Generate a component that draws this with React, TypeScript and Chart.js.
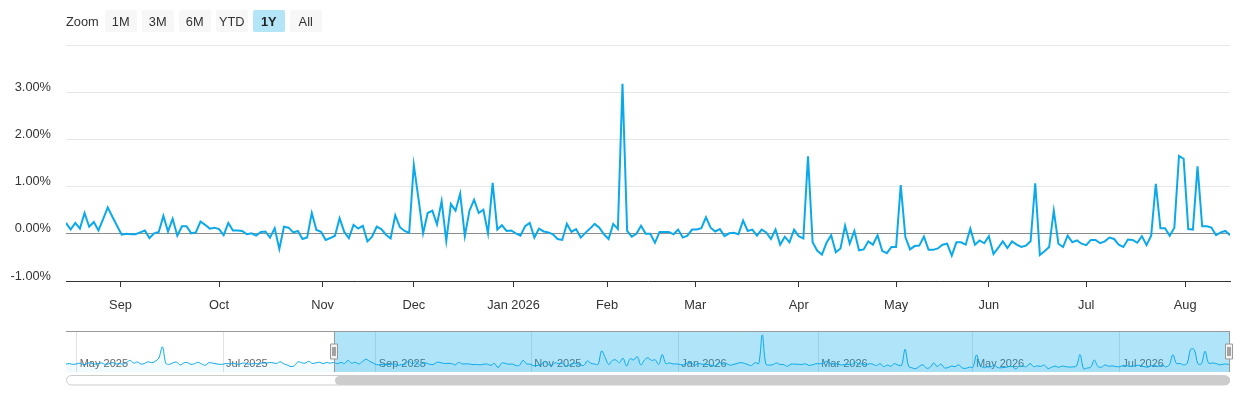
import React, { useEffect, useRef } from 'react';
import { Chart, registerables } from 'chart.js';

Chart.register(...registerables);

const FONT = '"Liberation Sans", Arial, Helvetica, sans-serif';
const LINE_COLOR = '#0ca9ea';

// Trading calendar (weekdays minus market holidays)
const firstDay = '2025-04-28';
const lastDay = '2026-08-14';
const rangeStart = '2025-08-14';
const holidays = [
  '2025-05-26', '2025-06-19', '2025-07-04', '2025-09-01', '2025-11-27', '2025-12-25',
  '2026-01-01', '2026-01-19', '2026-02-16', '2026-04-03', '2026-05-25', '2026-06-19', '2026-07-03',
];

// Daily change (%) — period before the selected range (seen only in the navigator)
const apr2025 = [0.05, 0.1, 0.02];
const may2025 = [0.08, 0.15, -0.02, 0.12, 0.2, 0.04, 0.1, 0.18, 0.01, 0.09, 0.22, 0.06, 0.12, 0.03, 0.25, 0.45, 0.15, 0.28, 0.05, 0.12, 0.3];
const jun2025 = [0.2, 0.35, 0.7, 1.9, 0.12, 0.02, 0.2, 0.25, -0.05, 0.18, 0.22, 0.01, 0.1, 0.24, 0.05, -0.08, 0.2, 0.16, 0.08, 0.02];
const jul2025 = [0.04, 0.12, 0.06, 0.15, 0.02, 0.1, 0.18, 0.05, 0.08, 0.14, 0.03, 0.2, 0.15, 0.22, 0.18, 0.12, 0.3, 0.08, -0.05, -0.22, -0.12, 0.3];
const aug2025early = [0.2, 0.15, 0.35, 0.12, 0.18, 0.25, 0.1, 0.22, 0.15];

// Daily change (%) — selected 1Y range
const aug2025 = [0.23, 0.09, 0.23, 0.11, 0.44, 0.15, 0.25, 0.07, 0.31, 0.56, 0.36, 0.17];
const sep2025 = [-0.02, 0.0, -0.01, -0.01, 0.03, 0.07, -0.09, 0.01, 0.04, 0.38, 0.05, 0.32, -0.04, 0.16, 0.16, 0.01, 0.03, 0.26, 0.19, 0.11, 0.13];
const oct2025 = [0.1, -0.03, 0.23, 0.07, 0.07, 0.06, -0.01, 0.01, -0.04, 0.04, 0.05, -0.08, 0.12, -0.32, 0.15, 0.13, 0.03, 0.06, -0.11, -0.08, 0.44, 0.08, 0.04];
const nov2025 = [-0.13, -0.09, -0.04, 0.33, 0.04, -0.09, 0.19, 0.11, 0.17, -0.16, -0.06, 0.15, 0.1, -0.02, -0.1, 0.39, 0.14, 0.06, 0.02];
const dec2025 = [1.46, 0.75, 0.01, 0.44, 0.49, 0.2, 0.69, -0.15, 0.63, 0.49, 0.85, -0.05, 0.49, 0.72, 0.44, 0.51, 0.01, 1.08, 0.09, 0.18, 0.06, 0.07];
const jan2026 = [0.01, -0.04, 0.16, 0.23, -0.08, 0.11, 0.05, 0.03, -0.01, -0.11, -0.13, 0.21, 0.04, 0.1, -0.08, 0.02, 0.11, 0.21, 0.13, -0.01];
const feb2026 = [-0.11, 0.21, 0.1, 3.18, 0.06, -0.06, 0.0, 0.17, 0.0, 0.0, -0.19, 0.04, 0.04, 0.04, -0.01, 0.09, -0.08, -0.04, 0.09];
const mar2026 = [0.09, 0.12, 0.35, 0.13, 0.05, 0.1, -0.05, 0.01, 0.02, -0.01, 0.28, 0.06, 0.09, -0.04, 0.09, 0.03, -0.11, 0.09, -0.23, -0.06, -0.18, 0.09];
const apr2026 = [-0.05, -0.1, 1.64, -0.18, -0.36, -0.44, -0.19, -0.03, -0.39, -0.31, 0.17, -0.21, 0.06, -0.35, -0.33, -0.16, -0.23, -0.03, -0.36, -0.41, -0.28];
const may2026 = [-0.28, 1.03, -0.07, -0.33, -0.26, -0.25, -0.06, -0.34, -0.34, -0.31, -0.23, -0.21, -0.46, -0.18, -0.18, -0.23, 0.11, -0.23, -0.14, -0.2];
const jun2026 = [-0.05, -0.43, -0.3, -0.16, -0.3, -0.16, -0.23, -0.28, -0.25, -0.16, 1.07, -0.45, -0.37, -0.28, 0.49, -0.21, -0.28, -0.04, -0.18, -0.14, -0.21];
const jul2026 = [-0.24, -0.13, -0.13, -0.2, -0.16, -0.08, -0.11, -0.23, -0.28, -0.12, -0.13, -0.19, -0.05, -0.24, -0.04, 1.06, 0.12, 0.12, -0.04, 0.13, 1.65, 1.59];
const aug2026 = [0.1, 0.09, 1.43, 0.16, 0.16, 0.13, -0.03, 0.03, 0.06, -0.03];

// Axis ticks
const yTicks = [-1, 0, 1, 2, 3, 4];
const mainTickDates = ['2025-09-01', '2025-10-01', '2025-11-01', '2025-12-01', '2026-01-01', '2026-02-01', '2026-03-01', '2026-04-01', '2026-05-01', '2026-06-01', '2026-07-01', '2026-08-01'];
const mainTickLabels = ['Sep', 'Oct', 'Nov', 'Dec', 'Jan 2026', 'Feb', 'Mar', 'Apr', 'May', 'Jun', 'Jul', 'Aug'];
const navTickDates = ['2025-05-01', '2025-07-01', '2025-09-01', '2025-11-01', '2026-01-01', '2026-03-01', '2026-05-01', '2026-07-01'];
const navTickLabels = ['May 2025', 'Jul 2025', 'Sep 2025', 'Nov 2025', 'Jan 2026', 'Mar 2026', 'May 2026', 'Jul 2026'];

const rangeButtons = ['1M', '3M', '6M', 'YTD', '1Y', 'All'];
const selectedRange = '1Y';

const allValues = [
  ...apr2025, ...may2025, ...jun2025, ...jul2025, ...aug2025early,
  ...aug2025, ...sep2025, ...oct2025, ...nov2025, ...dec2025, ...jan2026,
  ...feb2026, ...mar2026, ...apr2026, ...may2026, ...jun2026, ...jul2026, ...aug2026,
];

function tradingDays(): number[] {
  const hol = new Set(holidays);
  const out: number[] = [];
  const end = Date.parse(lastDay);
  for (let t = Date.parse(firstDay); t <= end; t += 86400000) {
    const d = new Date(t);
    const wd = d.getUTCDay();
    const iso = d.toISOString().slice(0, 10);
    if (wd === 0 || wd === 6 || hol.has(iso)) continue;
    out.push(t);
  }
  return out;
}

// Ordinal position of a timestamp (interpolated between trading days)
function ordinal(t: number, days: number[]): number {
  for (let i = 0; i < days.length; i++) {
    if (days[i] === t) return i;
    if (days[i] > t) {
      const a = days[i - 1];
      return i - 1 + (t - a) / (days[i] - a);
    }
  }
  return days.length - 1;
}

export default function App() {
  const mainRef = useRef<HTMLCanvasElement | null>(null);
  const navRef = useRef<HTMLCanvasElement | null>(null);

  useEffect(() => {
    const days = tradingDays();
    const n = Math.min(days.length, allValues.length);
    const startIdx = days.indexOf(Date.parse(rangeStart));
    const endIdx = n - 1;
    const allPoints = allValues.slice(0, n).map((v, i) => ({ x: i, y: v }));
    const mainPoints = allPoints.slice(startIdx);
    const mainTickPos = mainTickDates.map((d) => ordinal(Date.parse(d), days));
    const navTickPos = navTickDates.map((d) => ordinal(Date.parse(d), days));

    const mainChart = new Chart(mainRef.current as HTMLCanvasElement, {
      type: 'line',
      data: {
        datasets: [
          {
            data: mainPoints,
            borderColor: LINE_COLOR,
            borderWidth: 2,
            pointRadius: 0,
            tension: 0,
            fill: false,
          },
        ],
      },
      options: {
        animation: false,
        responsive: false,
        events: [],
        layout: { padding: { top: 45, right: 10, left: 0, bottom: 0 } },
        plugins: { legend: { display: false }, tooltip: { enabled: false } },
        scales: {
          x: {
            type: 'linear',
            min: startIdx,
            max: endIdx,
            afterBuildTicks: (s: any) => {
              s.ticks = mainTickPos.map((v) => ({ value: v }));
            },
            afterFit: (s: any) => {
              s.height = 39;
            },
            ticks: {
              autoSkip: false,
              maxRotation: 0,
              padding: 11,
              color: '#333333',
              font: { size: 12.8, family: FONT },
              callback: (_v: any, i: number) => mainTickLabels[i],
            },
            grid: { drawOnChartArea: false, drawTicks: true, tickLength: 6, color: '#333333', lineWidth: 1 },
            border: { display: true, color: '#333333', width: 1 },
          },
          y: {
            type: 'linear',
            min: -1,
            max: 4,
            afterBuildTicks: (s: any) => {
              s.ticks = yTicks.map((v) => ({ value: v }));
            },
            afterFit: (s: any) => {
              s.width = 66;
            },
            ticks: {
              padding: 15,
              labelOffset: -5,
              color: '#333333',
              font: { size: 12.8, family: FONT },
              callback: (v: any) => (v === 4 ? '' : `${Number(v).toFixed(2)}%`),
            },
            grid: {
              drawTicks: false,
              color: (ctx: any) => (ctx.tick && ctx.tick.value === 0 ? '#8c8c8c' : '#e6e6e6'),
              lineWidth: 1,
            },
            border: { display: false },
          },
        },
      } as any,
    });

    const navigatorDecor = {
      id: 'navigatorDecor',
      beforeDatasetsDraw(chart: any) {
        const { ctx, chartArea: a, scales } = chart;
        const x = scales.x;
        ctx.save();
        ctx.font = `11px ${FONT}`;
        ctx.fillStyle = '#666666';
        ctx.textBaseline = 'middle';
        ctx.textAlign = 'left';
        navTickPos.forEach((v, i) => {
          ctx.fillText(navTickLabels[i], x.getPixelForValue(v) + 3, a.bottom - 8.5);
        });
        ctx.restore();
      },
      afterDatasetsDraw(chart: any) {
        const { ctx, chartArea: a, scales } = chart;
        const x = scales.x;
        const x0 = Math.round(x.getPixelForValue(startIdx));
        const x1 = Math.round(x.getPixelForValue(endIdx));
        ctx.save();
        // selected-range mask
        ctx.fillStyle = 'rgba(0,168,232,0.31)';
        ctx.fillRect(x0, a.top, x1 - x0, a.bottom - a.top);
        // outline
        ctx.strokeStyle = '#999999';
        ctx.lineWidth = 1;
        ctx.beginPath();
        ctx.moveTo(a.left, a.top + 0.5);
        ctx.lineTo(a.right, a.top + 0.5);
        ctx.moveTo(x0 + 0.5, a.top);
        ctx.lineTo(x0 + 0.5, a.bottom);
        ctx.moveTo(x1 - 0.5, a.top);
        ctx.lineTo(x1 - 0.5, a.bottom);
        ctx.stroke();
        // handles
        const hy = (a.top + a.bottom) / 2;
        [x0, x1 - 1].forEach((hx) => {
          ctx.fillStyle = '#f2f2f2';
          ctx.strokeStyle = '#999999';
          ctx.beginPath();
          ctx.rect(hx - 3.5, hy - 7.5, 7, 15);
          ctx.fill();
          ctx.stroke();
          ctx.strokeStyle = '#555555';
          ctx.beginPath();
          ctx.moveTo(hx - 1, hy - 4.5);
          ctx.lineTo(hx - 1, hy + 4.5);
          ctx.moveTo(hx + 1, hy - 4.5);
          ctx.lineTo(hx + 1, hy + 4.5);
          ctx.stroke();
        });
        // scrollbar
        const sy = a.bottom + 3.5;
        ctx.fillStyle = '#ffffff';
        ctx.strokeStyle = '#cccccc';
        ctx.beginPath();
        ctx.roundRect(a.left + 0.5, sy, a.right - a.left - 1, 9.5, 4.75);
        ctx.fill();
        ctx.stroke();
        ctx.fillStyle = '#cccccc';
        ctx.beginPath();
        ctx.roundRect(x0 + 1, sy + 0.5, x1 - x0 - 1, 9, 4.5);
        ctx.fill();
        ctx.restore();
      },
    };

    const navChart = new Chart(navRef.current as HTMLCanvasElement, {
      type: 'line',
      data: {
        datasets: [
          {
            data: allPoints,
            borderColor: LINE_COLOR,
            borderWidth: 1,
            pointRadius: 0,
            tension: 0.35,
            fill: 'start',
            backgroundColor: 'rgba(12,169,234,0.06)',
          },
        ],
      },
      options: {
        animation: false,
        responsive: false,
        events: [],
        layout: { padding: { top: 11, bottom: 23, left: 66, right: 10 } },
        plugins: { legend: { display: false }, tooltip: { enabled: false } },
        scales: {
          x: {
            type: 'linear',
            min: 0,
            max: endIdx,
            afterBuildTicks: (s: any) => {
              s.ticks = navTickPos.map((v) => ({ value: v }));
            },
            afterFit: (s: any) => {
              s.height = 0;
            },
            ticks: { display: false },
            grid: { color: '#e2e2e2', drawTicks: false, lineWidth: 1 },
            border: { display: false },
          },
          y: { type: 'linear', display: false, min: -0.8, max: 3.6 },
        },
      } as any,
      plugins: [navigatorDecor],
    });

    return () => {
      mainChart.destroy();
      navChart.destroy();
    };
  }, []);

  return (
    <div
      style={{
        position: 'absolute',
        left: 0,
        top: 0,
        width: 1240,
        height: 400,
        background: '#ffffff',
        fontFamily: FONT,
        overflow: 'hidden',
      }}
    >
      <canvas
        ref={mainRef}
        width={1240}
        height={320}
        style={{ position: 'absolute', left: 0, top: 0, width: 1240, height: 320 }}
      />
      <canvas
        ref={navRef}
        width={1240}
        height={75}
        style={{ position: 'absolute', left: 0, top: 320, width: 1240, height: 75 }}
      />
      <div
        style={{
          position: 'absolute',
          left: 66,
          top: 10,
          height: 22,
          display: 'flex',
          alignItems: 'center',
          fontSize: 12.8,
          color: '#333333',
        }}
      >
        <span style={{ marginRight: 6 }}>Zoom</span>
        {rangeButtons.map((b) => (
          <div
            key={b}
            style={{
              width: 32,
              height: 22,
              marginRight: 5,
              borderRadius: 2,
              background: b === selectedRange ? '#b3e5f7' : '#f7f7f7',
              display: 'flex',
              alignItems: 'center',
              justifyContent: 'center',
              fontWeight: b === selectedRange ? 'bold' : 'normal',
              color: b === selectedRange ? '#222222' : '#333333',
            }}
          >
            {b}
          </div>
        ))}
      </div>
    </div>
  );
}
